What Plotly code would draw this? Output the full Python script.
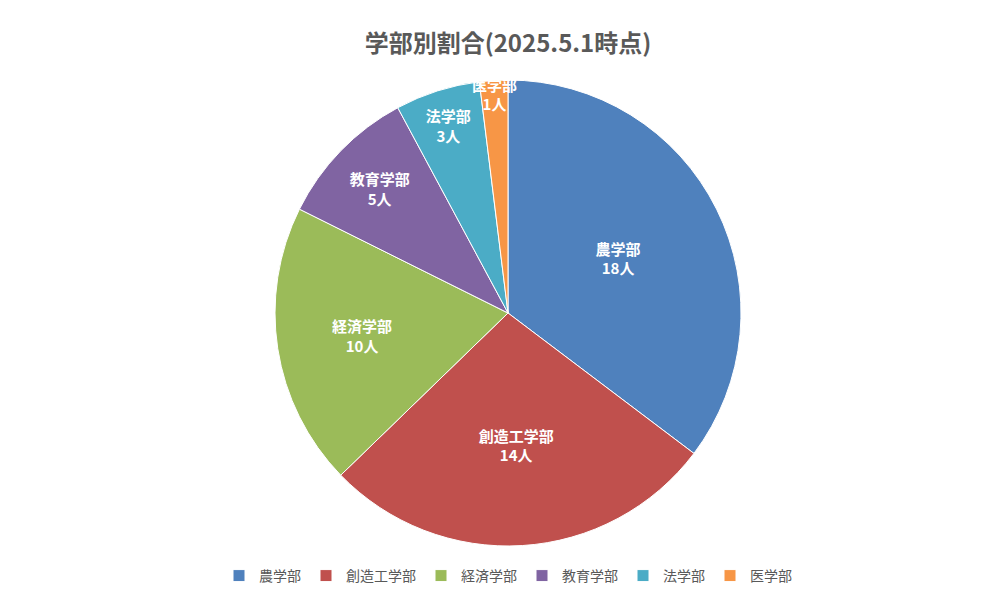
import plotly.graph_objects as go

# 学部別人数
faculties = ["農学部", "創造工学部", "経済学部", "教育学部", "法学部", "医学部"]
counts = [18, 14, 10, 5, 3, 1]
colors = ["#4F81BD", "#C0504D", "#9BBB59", "#8064A2", "#4BACC6", "#F79646"]

fig = go.Figure(go.Pie(
    labels=faculties,
    values=counts,
    sort=False,
    direction="clockwise",
    rotation=0,
    marker=dict(colors=colors, line=dict(color="white", width=1)),
    texttemplate="<b>%{label}<br>%{value}人</b>",
    textposition="inside",
    insidetextorientation="horizontal",
    textfont=dict(color="white", size=15),
    hovertemplate="%{label}: %{value}人<extra></extra>",
))

fig.update_layout(
    width=1000, height=596,
    font=dict(family="Noto Sans CJK JP", color="#595959"),
    title=dict(text="<b>学部別割合(2025.5.1時点)</b>", x=0.5, y=0.955,
               font=dict(size=24, color="#595959")),
    margin=dict(t=72, b=52, l=20, r=20),
    paper_bgcolor="white",
    legend=dict(orientation="h", x=0.5, xanchor="center", y=-0.03, yanchor="top",
                font=dict(size=14, color="#595959")),
    uniformtext=dict(minsize=13, mode="show"),
)

fig.write_html("out.html")
